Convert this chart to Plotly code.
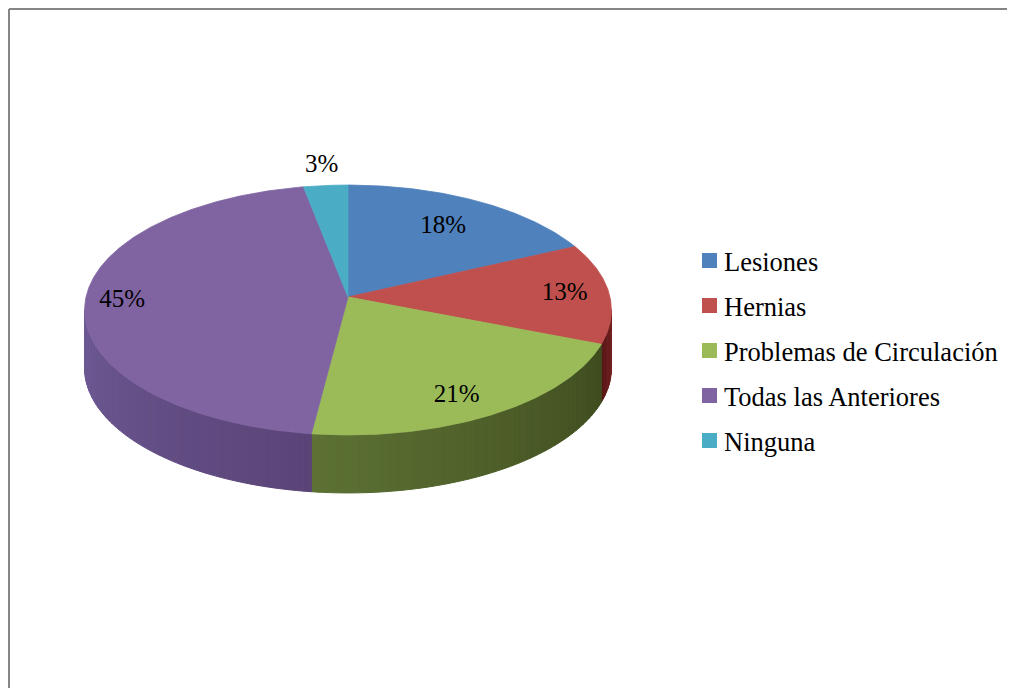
import numpy as np
import plotly.graph_objects as go

# ---------------- data ----------------
categories = ["Lesiones", "Hernias", "Problemas de Circulación",
              "Todas las Anteriores", "Ninguna"]
values = [18, 13, 21, 45, 3]          # percent

# ---------------- style ----------------
top_colors = ["#4f81bd", "#c0504d", "#9bbb59", "#8064a2", "#4bacc6"]
# wall colours (start-of-slice side, end-of-slice side)
wall_colors = [("#3a5f8c", "#2c4a70"), ("#7a2626", "#5a1616"),
               ("#3e4c1e", "#5d7134"), ("#5a4477", "#6e5a95"),
               ("#377f93", "#2c6a7a")]
label_r = [0.72, 0.83, 0.76, 0.86, 1.20]
label_dz = [0, 0, 12, 0, 0]
FONT = "Liberation Serif, Times New Roman, serif"

BODY = 8                      # default page body margin
W, H = 1020, 680              # figure size
CX, CY = 348.0, 297.0        # pie apex on screen
RX, SY, K = 262.0, 123.6, 0.104
DEPTH = 58.0


def proj(theta, r=1.0, dz=0.0):
    u = r * np.sin(theta)
    v = r * np.cos(theta)
    d = 1 + K * v
    return CX + RX * u / d, CY - SY * v / d + dz


def hex2rgb(h):
    h = h.lstrip("#")
    return np.array([int(h[i:i + 2], 16) for i in (0, 2, 4)], float)


def mix(c0, c1, t):
    c = hex2rgb(c0) * (1 - t) + hex2rgb(c1) * t
    return "rgb(%d,%d,%d)" % tuple(np.round(c).astype(int))


total = float(sum(values))
cum = np.concatenate([[0.0], np.cumsum(values)]) / total * 2 * np.pi

# silhouette angles (where side wall becomes visible)
g = np.linspace(0, np.pi, 2001)
th_r = g[np.argmax(proj(g)[0])]
g2 = np.linspace(np.pi, 2 * np.pi, 2001)
th_l = g2[np.argmin(proj(g2)[0])]

fig = go.Figure()

# side walls (drawn first)
for i in range(len(values)):
    a = max(cum[i], th_r)
    b = min(cum[i + 1], th_l)
    if a >= b:
        continue
    n = max(2, int(np.degrees(b - a) / 1.5))
    edges = np.linspace(a, b, n + 1)
    c0, c1 = wall_colors[i]
    for j in range(n):
        t0, t1 = edges[j], edges[j + 1]
        ts = np.linspace(t0, t1, 4)
        xt, yt = proj(ts)
        xb, yb = proj(ts[::-1], dz=DEPTH)
        xs = np.concatenate([xt, xb, xt[:1]])
        ys = np.concatenate([yt, yb, yt[:1]])
        col = mix(c0, c1, (j + 0.5) / n)
        fig.add_trace(go.Scatter(x=xs, y=ys, mode="lines", fill="toself",
                                 fillcolor=col, line=dict(color=col, width=1),
                                 hoverinfo="skip", showlegend=False))

# top faces
for i in range(len(values)):
    n = max(8, int(np.degrees(cum[i + 1] - cum[i]) * 2))
    ts = np.linspace(cum[i], cum[i + 1], n)
    xa, ya = proj(ts)
    xs = np.concatenate([[CX], xa, [CX]])
    ys = np.concatenate([[CY], ya, [CY]])
    fig.add_trace(go.Scatter(x=xs, y=ys, mode="lines", fill="toself",
                             fillcolor=top_colors[i],
                             line=dict(color=top_colors[i], width=0.8),
                             name=categories[i], hoverinfo="name",
                             showlegend=False))

# data labels
lx, ly = [], []
for i in range(len(values)):
    mid = (cum[i] + cum[i + 1]) / 2
    x, y = proj(mid, r=label_r[i], dz=label_dz[i])
    lx.append(x)
    ly.append(y)
fig.add_trace(go.Scatter(x=lx, y=ly, mode="text",
                         text=["%d%%" % v for v in values],
                         textfont=dict(family=FONT, size=25, color="black"),
                         hoverinfo="skip", showlegend=False))

# legend (manual)
LEG_X, LEG_Y0, LEG_DY = 709.5, 260.5, 45
leg_y = [LEG_Y0 + LEG_DY * i for i in range(len(categories))]
fig.add_trace(go.Scatter(x=[LEG_X] * len(categories), y=leg_y, mode="markers",
                         marker=dict(symbol="square", size=15, color=top_colors,
                                     line=dict(width=0)),
                         hoverinfo="skip", showlegend=False))
for i, c in enumerate(categories):
    fig.add_annotation(x=LEG_X + 12.5, y=leg_y[i] + 1, text=c, showarrow=False,
                       xanchor="left", yanchor="middle",
                       font=dict(family=FONT, size=26.5, color="black"))

# chart frame: only the top and left edges fall inside the view
frame = dict(color="#858585", width=2)
fig.add_shape(type="line", xref="x", yref="y", x0=9, y0=9, x1=BODY + W, y1=9,
              line=frame)
fig.add_shape(type="line", xref="x", yref="y", x0=9, y0=9, x1=9, y1=BODY + H,
              line=frame)

fig.update_layout(
    width=W, height=H, autosize=False,
    margin=dict(l=0, r=0, t=0, b=0),
    paper_bgcolor="white", plot_bgcolor="white",
    xaxis=dict(range=[BODY, BODY + W], visible=False, fixedrange=True),
    yaxis=dict(range=[BODY + H, BODY], visible=False, fixedrange=True),
    showlegend=False,
)

fig.write_html("out.html")
